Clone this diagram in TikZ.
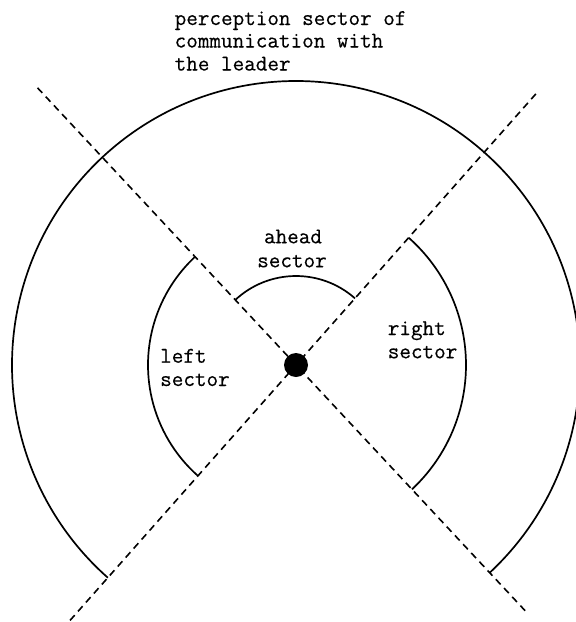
\documentclass[tikz,border=0pt]{standalone}
\usepackage{fontspec}
\newfontfamily\labelfont[FakeBold=0.4]{Latin Modern Mono}
\begin{document}
\begin{tikzpicture}[x=1pt,y=1pt,
  lbl/.style={font=\labelfont\fontsize{22.5}{23}\selectfont, inner sep=0pt, anchor=base west},
  sectorarc/.style={line width=1.7pt},
  divider/.style={line width=1.6pt, dash pattern=on 7pt off 5pt}]
\useasboundingbox (0,0) rectangle (576,-622);
\coordinate (C) at (296,-365);
\path (C) ++(133:379) coordinate (TL);
\path (C) ++(-47:337) coordinate (BR);
\path (C) ++(48.5:362) coordinate (TR);
\path (C) ++(228.5:343) coordinate (BL);
\draw[divider] (TL) -- (BR);
\draw[divider] (TR) -- (BL);
% outer perception sector
\draw[sectorarc] (C) ++(-47:284) arc[start angle=-47, end angle=228.5, radius=284];
% left sector
\draw[sectorarc] (C) ++(133:148) arc[start angle=133, end angle=228.5, radius=148];
% right sector
\draw[sectorarc] (C) ++(-47:170) arc[start angle=-47, end angle=48.5, radius=170];
% ahead sector
\draw[sectorarc] (C) ++(48.5:89) arc[start angle=48.5, end angle=133, radius=89];
% leader
\node[circle, fill=black, minimum size=24pt, inner sep=0pt] (dot) at (C) {};
% labels
\node[lbl] (t1) at (174.5,-25) {perception sector of};
\node[lbl] (t2) at (174.5,-47.5) {communication with};
\node[lbl] (t3) at (174.5,-70.5) {the leader};
\node[lbl, anchor=base] (ah1) at (293,-243.3) {ahead};
\node[lbl, anchor=base] (ah2) at (292,-267.3) {sector};
\node[lbl] (lf1) at (160,-362.7) {left};
\node[lbl] (lf2) at (160,-386) {sector};
\node[lbl] (rt1) at (387.6,-335) {right};
\node[lbl] (rt2) at (387.6,-358.3) {sector};
\end{tikzpicture}
\end{document}
